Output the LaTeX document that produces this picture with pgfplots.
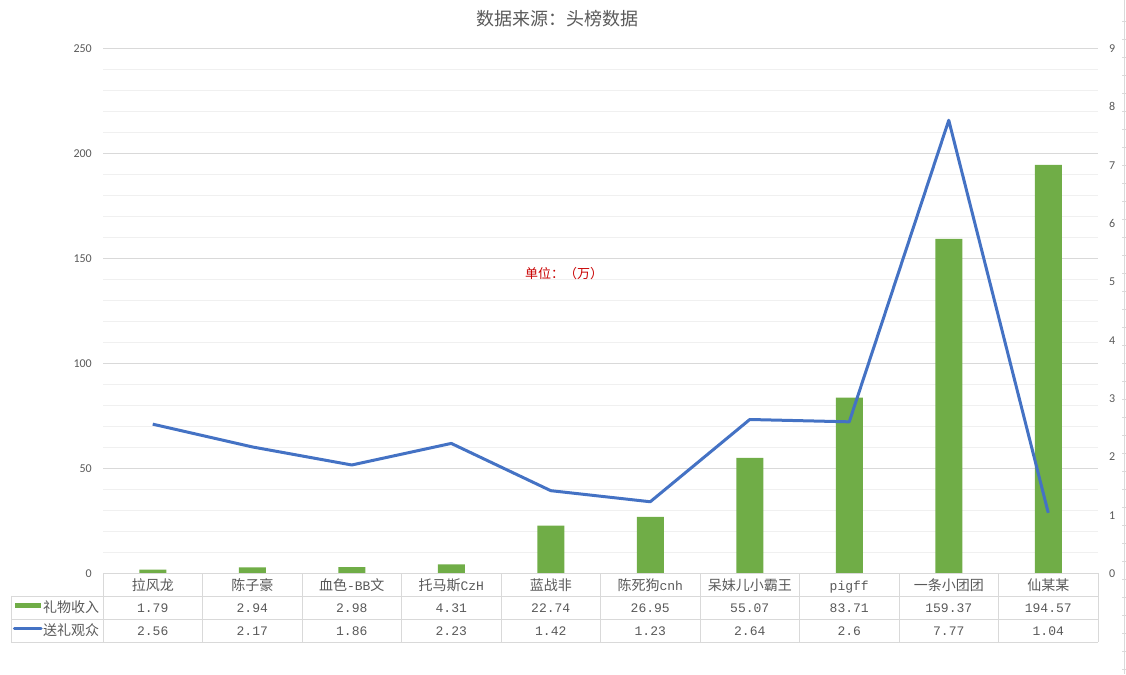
\documentclass[border=0pt]{standalone}
\usepackage{pgfplots}
\pgfplotsset{compat=1.18}
\usepackage{fontspec}
\setmainfont{Carlito}
\newfontfamily\cjk{Noto Sans CJK SC}
\newfontfamily\mono[Scale=0.93]{Liberation Mono}
\definecolor{barg}{HTML}{70AD47}
\definecolor{lineb}{HTML}{4472C4}
\definecolor{txt}{HTML}{595959}
\definecolor{gmaj}{HTML}{D9D9D9}
\definecolor{gmin}{HTML}{F0F0F0}
\definecolor{unit}{HTML}{C80000}
\newcommand\C[1]{{\cjk #1}}
\newcommand\M[1]{{\mono #1}}
% one column of the data table: name, gift income, gifting viewers
\newcommand\row[3]{\rule{0pt}{16.5pt}#1\\\M{#2}\\\M{#3}}

\begin{document}
\begin{tikzpicture}
\useasboundingbox (0,0) rectangle (1126pt,674pt);

\begin{axis}[
  at={(103pt,100.5pt)}, anchor=south west,
  scale only axis, width=995pt, height=525pt,
  xmin=-0.5, xmax=9.5, ymin=0, ymax=250,
  xtick={0,...,9},
  xticklabels={
    \row{\C{拉风龙}}{1.79}{2.56},
    \row{\C{陈子豪}}{2.94}{2.17},
    \row{\C{血色}\M{-BB}\C{文}}{2.98}{1.86},
    \row{\C{托马斯}\M{CzH}}{4.31}{2.23},
    \row{\C{蓝战非}}{22.74}{1.42},
    \row{\C{陈死狗}\M{cnh}}{26.95}{1.23},
    \row{\C{呆妹儿小霸王}}{55.07}{2.64},
    \row{\M{pigff}}{83.71}{2.6},
    \row{\C{一条小团团}}{159.37}{7.77},
    \row{\C{仙某某}}{194.57}{1.04}},
  xticklabel style={font=\fontsize{14}{22.5}\selectfont, text=txt,
    align=center, anchor=north, inner sep=0pt},
  ytick={0,50,...,250}, minor y tick num=4,
  axis line style={draw=none},
  major tick length=0pt, minor tick length=0pt,
  ymajorgrids, yminorgrids,
  major grid style={gmaj, line width=0.8pt},
  minor grid style={gmin, line width=0.8pt},
  yticklabel style={font=\fontsize{12}{14}\selectfont, text=txt,
    inner sep=0pt, xshift=-11pt},
  /pgf/number format/assume math mode=true,
]
\addplot[ybar, bar width=27pt, fill=barg, draw=none] coordinates {
  (0,1.79) (1,2.94) (2,2.98) (3,4.31) (4,22.74)
  (5,26.95) (6,55.07) (7,83.71) (8,159.37) (9,194.57)};
\end{axis}

\begin{axis}[
  at={(103pt,100.5pt)}, anchor=south west,
  scale only axis, width=995pt, height=525pt,
  xmin=-0.5, xmax=9.5, ymin=0, ymax=9,
  ytick={0,...,9},
  axis y line*=right, hide x axis,
  axis line style={draw=none},
  major tick length=0pt,
  yticklabel style={font=\fontsize{12}{14}\selectfont, text=txt,
    inner sep=0pt, xshift=11pt},
  /pgf/number format/assume math mode=true,
]
\addplot[lineb, line width=3pt, line join=round] coordinates {
  (0,2.56) (1,2.17) (2,1.86) (3,2.23) (4,1.42)
  (5,1.23) (6,2.64) (7,2.6) (8,7.77) (9,1.04)};
\end{axis}

% data table grid
\begin{scope}[gmaj, line width=0.9pt]
  \draw (103pt,100.5pt) -- (1098pt,100.5pt);
  \draw (11pt,78pt) -- (1098pt,78pt);
  \draw (11pt,55pt) -- (1098pt,55pt);
  \draw (11pt,32pt) -- (1098pt,32pt);
  \draw (11pt,78pt) -- (11pt,32pt);
  \foreach \i in {0,...,10}
    \draw ({103pt+99.5pt*\i},100.5pt) -- ({103pt+99.5pt*\i},32pt);
\end{scope}

% legend keys of the table
\fill[barg] (15pt,65.7pt) rectangle (40.7pt,71.3pt);
\draw[lineb, line width=3.5pt, line cap=round] (14.5pt,45.7pt) -- (41pt,45.7pt);
\node[anchor=base west, inner sep=0pt, text=txt,
  font=\cjk\fontsize{14}{16}\selectfont] at (43pt,61.4pt) {礼物收入};
\node[anchor=base west, inner sep=0pt, text=txt,
  font=\cjk\fontsize{14}{16}\selectfont] at (43pt,38.4pt) {送礼观众};

% title and note
\node[text=txt, font=\cjk\fontsize{18}{20}\selectfont] at (557pt,655pt) {数据来源：头榜数据};
\node[text=unit, font=\cjk\fontsize{13}{15}\selectfont] at (564pt,400pt) {单位：（万）};

% sheet edge on the right
\draw[gmaj, line width=0.8pt] (1124.5pt,0pt) -- (1124.5pt,674pt);
\foreach \k in {0,...,36}
  \draw[gmaj, line width=0.6pt] (1122pt,{652.3pt-18pt*\k}) -- (1126pt,{652.3pt-18pt*\k});
\end{tikzpicture}
\end{document}
